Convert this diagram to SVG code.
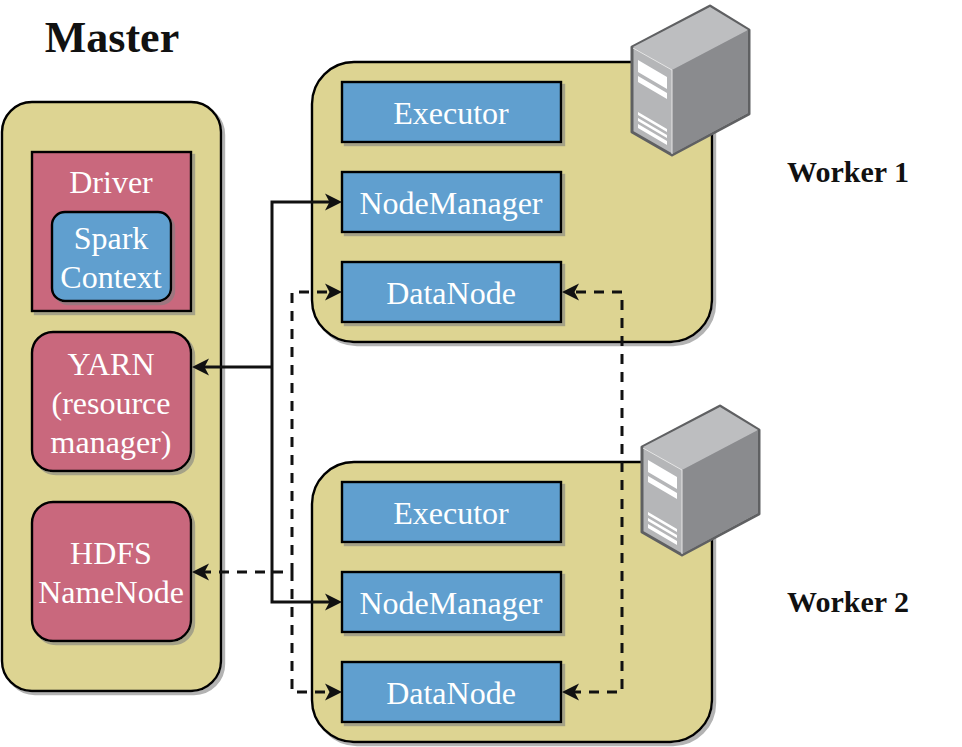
<svg xmlns="http://www.w3.org/2000/svg" width="962" height="747" viewBox="0 0 962 747">
<style>
text{font-family:"Liberation Serif","Times New Roman",serif;text-anchor:middle}
.t{fill:#fff;font-size:32px}
.h{fill:#111;font-weight:bold}
.box{stroke:#000;stroke-width:2.400;filter:url(#sh)}
.y{fill:#ddd492}
.r{fill:#c9687d}
.b{fill:#609fcf}
.c{fill:none;stroke:#111;stroke-width:3}
.d{stroke-dasharray:10 8}
</style>
<defs>
<filter id="sh" x="-5%" y="-5%" width="112%" height="112%"><feDropShadow dx="3" dy="3" stdDeviation="0.6" flood-color="#808080" flood-opacity="0.6"/></filter>
<marker id="a" markerUnits="userSpaceOnUse" markerWidth="22" markerHeight="22" refX="10" refY="11" orient="auto-start-reverse"><path d="M18 11L1 19.500L5.500 11L1 2.500Z" fill="#111"/></marker>
<g id="srv">
<path d="M632 47L710 6L749 30V114L672 155L632 132Z" fill="#b5b6b8" stroke="#5f6062" stroke-width="3" stroke-linejoin="round"/>
<path d="M633 47L710 7L748 30L672 70Z" fill="#bdbec0"/>
<path d="M672 70L748 30V113L672 154Z" fill="#8a8b8e"/>
<path d="M633 48L672 70V154" fill="none" stroke="#e6e6e6" stroke-width="1"/>
<path d="M638 60L667 77V89L638 72ZM638 76L667 93V99L638 82ZM638 112L667 129V132L638 115ZM638 118L667 135V138L638 121ZM638 124L667 141V145L638 128Z" fill="#fff"/>
</g>
</defs>
<text class="h" x="112" y="52" font-size="44">Master</text>
<text class="h" x="848" y="182" font-size="30">Worker 1</text>
<text class="h" x="848" y="612" font-size="30">Worker 2</text>
<g id="master"><rect class="box y" x="2" y="102" width="219" height="589" rx="30"/></g>
<g id="worker1"><rect class="box y" x="312" y="62" width="400" height="280" rx="42"/></g>
<g id="worker2"><rect class="box y" x="312" y="462" width="400" height="280" rx="42"/></g>
<g id="driver"><rect class="box r" x="32" y="152" width="159" height="159"/><text class="t" x="111" y="193">Driver</text></g>
<g id="spark-context"><rect class="box b" x="52" y="212" width="119" height="89" rx="13"/><text class="t" x="111" y="249">Spark</text><text class="t" x="111" y="288">Context</text></g>
<g id="yarn"><rect class="box r" x="32" y="332" width="159" height="139" rx="21"/><text class="t" x="111" y="375">YARN</text><text class="t" x="111" y="414">(resource</text><text class="t" x="111" y="453">manager)</text></g>
<g id="hdfs"><rect class="box r" x="32" y="502" width="159" height="139" rx="21"/><text class="t" x="111" y="564">HDFS</text><text class="t" x="111" y="603">NameNode</text></g>
<g id="executor1"><rect class="box b" x="342" y="82" width="219" height="60"/><text class="t" x="451" y="124">Executor</text></g>
<g id="nodemanager1"><rect class="box b" x="342" y="172" width="219" height="60"/><text class="t" x="451" y="214">NodeManager</text></g>
<g id="datanode1"><rect class="box b" x="342" y="262" width="219" height="60"/><text class="t" x="451" y="304">DataNode</text></g>
<g id="executor2"><rect class="box b" x="342" y="482" width="219" height="60"/><text class="t" x="451" y="524">Executor</text></g>
<g id="nodemanager2"><rect class="box b" x="342" y="572" width="219" height="60"/><text class="t" x="451" y="614">NodeManager</text></g>
<g id="datanode2"><rect class="box b" x="342" y="662" width="219" height="60"/><text class="t" x="451" y="704">DataNode</text></g>
<g id="server1"><use href="#srv"/></g>
<g id="server2"><use href="#srv" x="10" y="400"/></g>
<g id="connectors">
<path class="c" d="M272 367H200" marker-end="url(#a)"/>
<path class="c" d="M334 202H272V602H334" marker-start="url(#a)" marker-end="url(#a)"/>
<path class="c d" stroke-dashoffset="11" d="M334 292H292V572" marker-start="url(#a)"/>
<path class="c d" stroke-dashoffset="9" d="M334 692H292V572" marker-start="url(#a)"/>
<path class="c d" stroke-dashoffset="9" d="M292 572H200" marker-end="url(#a)"/>
<path class="c d" stroke-dashoffset="12" d="M570 292H622V492" marker-start="url(#a)"/>
<path class="c d" stroke-dashoffset="17" d="M570 692H622V492" marker-start="url(#a)"/>
</g>
</svg>
